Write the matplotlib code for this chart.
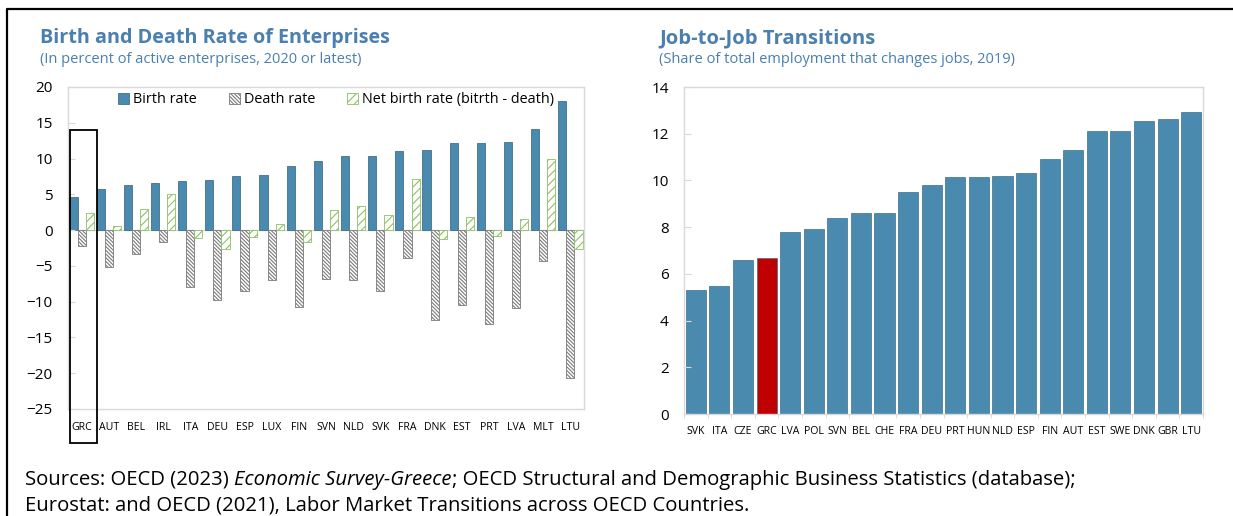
import numpy as np
import matplotlib.pyplot as plt
from matplotlib.patches import Rectangle
from matplotlib.lines import Line2D

plt.rcParams['font.family'] = ['Open Sans', 'DejaVu Sans']
plt.rcParams['hatch.linewidth'] = 0.8

# left panel: enterprise birth / death rates
countries_l = ['GRC', 'AUT', 'BEL', 'IRL', 'ITA', 'DEU', 'ESP', 'LUX', 'FIN', 'SVN',
               'NLD', 'SVK', 'FRA', 'DNK', 'EST', 'PRT', 'LVA', 'MLT', 'LTU']
birth = [4.6, 5.7, 6.3, 6.6, 6.9, 7.0, 7.5, 7.7, 9.0, 9.6,
         10.3, 10.4, 11.1, 11.2, 12.2, 12.2, 12.3, 14.2, 18.0]
death = [-2.2, -5.2, -3.4, -1.7, -7.9, -9.7, -8.5, -7.0, -10.8, -6.9,
         -7.0, -8.5, -3.9, -12.5, -10.4, -13.1, -10.9, -4.3, -20.7]
net = [2.4, 0.6, 3.0, 5.0, -1.1, -2.6, -1.0, 0.8, -1.7, 2.8,
       3.4, 2.1, 7.2, -1.3, 1.9, -0.8, 1.5, 10.0, -2.7]

# right panel: job-to-job transitions
countries_r = ['SVK', 'ITA', 'CZE', 'GRC', 'LVA', 'POL', 'SVN', 'BEL', 'CHE', 'FRA', 'DEU',
               'PRT', 'HUN', 'NLD', 'ESP', 'FIN', 'AUT', 'EST', 'SWE', 'DNK', 'GBR', 'LTU']
j2j = [5.3, 5.5, 6.6, 6.7, 7.8, 7.9, 8.4, 8.6, 8.6, 9.5, 9.8,
       10.15, 10.15, 10.2, 10.3, 10.9, 11.3, 12.1, 12.1, 12.55, 12.65, 12.95]

BLUE = '#4a8aae'
TITLE = '#4a7fb0'
GRID = '#d9d9d9'

W, H = 1233, 516
fig = plt.figure(figsize=(W / 100, H / 100), dpi=100)


def px_axes(l, t, r, b):
    return fig.add_axes([l / W, 1 - b / H, (r - l) / W, (b - t) / H])


def style(ax):
    for s in ax.spines.values():
        s.set_color(GRID)
        s.set_linewidth(1)
    ax.tick_params(axis='y', direction='in', length=5, color=GRID, labelsize=11, pad=11)
    ax.tick_params(axis='x', length=0, labelsize=7.6, pad=9)


# ---- left chart
ax1 = px_axes(68, 87, 584, 409)
x = np.arange(len(countries_l))
w = 0.3
ax1.bar(x - w, birth, w, color=BLUE, edgecolor='#2f5f7a', linewidth=0.5, label='Birth rate')
ax1.bar(x, death, w, color='white', edgecolor='#7a7a7a', hatch='\\' * 9, linewidth=0.6,
        label='Death rate')
ax1.bar(x + w, net, w, color='white', edgecolor='#8cc063', hatch='////', linewidth=0.6,
        label='Net birth rate (bitrth - death)')
ax1.axhline(0, color=GRID, linewidth=1, zorder=0)
ax1.set_xlim(-0.5, len(countries_l) - 0.5)
ax1.set_ylim(-25, 20)
ax1.set_yticks(range(-25, 21, 5))
ax1.set_xticks(x)
ax1.set_xticklabels(countries_l)
style(ax1)
ax1.legend(loc='center', bbox_to_anchor=(0.52, 0.96), ncol=3, frameon=False, fontsize=10.4,
           handlelength=0.75, handleheight=0.75, handletextpad=0.3, columnspacing=2.2)

# box around Greece
gi = countries_l.index('GRC')
ax1.add_patch(Rectangle((gi - 0.43, -29.7), 0.98, 43.7, fill=False, edgecolor='black',
                        linewidth=1.3, clip_on=False, zorder=5))

# ---- right chart
ax2 = px_axes(684, 87, 1203, 414)
xr = np.arange(len(countries_r))
colors = ['#c00000' if c == 'GRC' else BLUE for c in countries_r]
ax2.bar(xr, j2j, 0.85, color=colors, edgecolor='#3a6f8c', linewidth=0.5)
ax2.set_xlim(-0.5, len(countries_r) - 0.5)
ax2.set_ylim(0, 14)
ax2.set_yticks(range(0, 15, 2))
ax2.set_xticks(xr)
ax2.set_xticklabels(countries_r)
style(ax2)
ax2.set_xticks(np.arange(len(countries_r) + 1) - 0.5, minor=True)
ax2.tick_params(axis='x', which='minor', direction='out', length=3, color=GRID)

# ---- titles
fig.text(40 / W, 1 - 43.5 / H, 'Birth and Death Rate of Enterprises', color=TITLE,
         fontsize=14.2, fontweight='bold', va='baseline')
fig.text(40 / W, 1 - 63 / H, '(In percent of active enterprises, 2020 or latest)',
         color=TITLE, fontsize=10.5, va='baseline')
fig.text(659 / W, 1 - 43.5 / H, 'Job-to-Job Transitions', color=TITLE,
         fontsize=14.6, fontweight='bold', va='baseline')
fig.text(659 / W, 1 - 63 / H, '(Share of total employment that changes jobs, 2019)',
         color=TITLE, fontsize=10.5, va='baseline')

# ---- sources
fs = 14.6
t1 = fig.text(25 / W, 1 - 485 / H, 'Sources: OECD (2023) ', fontsize=fs, va='baseline')
t2 = fig.text(0, 0, 'Economic Survey-Greece', fontsize=fs, style='italic', va='baseline')
t3 = fig.text(0, 0, '; OECD Structural and Demographic Business Statistics (database);',
              fontsize=fs, va='baseline')
fig.canvas.draw()
r = fig.canvas.get_renderer()
e1 = t1.get_window_extent(r)
t2.set_position((e1.x1 / W, 1 - 485 / H))
fig.canvas.draw()
e2 = t2.get_window_extent(r)
t3.set_position((e2.x1 / W, 1 - 485 / H))
fig.text(25 / W, 1 - 510.5 / H,
         'Eurostat: and OECD (2021), Labor Market Transitions across OECD Countries.',
         fontsize=fs, va='baseline')

# outer frame
fig.add_artist(Line2D([7 / W, 7 / W, 1], [0, 1 - 9 / H, 1 - 9 / H], color='black',
                      linewidth=1.6, transform=fig.transFigure))

fig.savefig('out.png', dpi=100)
